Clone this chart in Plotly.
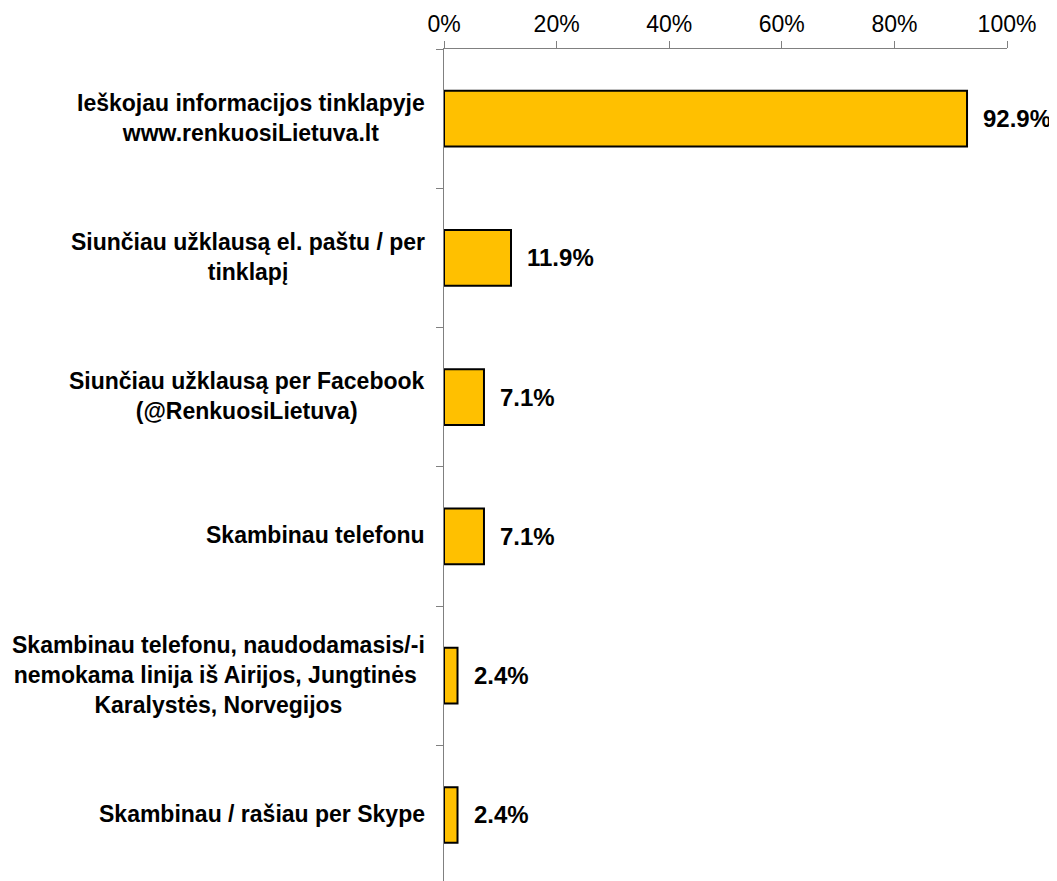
import plotly.graph_objects as go

categories = [
    "Ieškojau informacijos tinklapyje<br>www.renkuosiLietuva.lt",
    "Siunčiau užklausą el. paštu / per<br>tinklapį",
    "Siunčiau užklausą per Facebook<br>(@RenkuosiLietuva)",
    "Skambinau telefonu",
    "Skambinau telefonu, naudodamasis/-i<br>nemokama linija iš Airijos, Jungtinės <br>Karalystės, Norvegijos",
    "Skambinau / rašiau per Skype",
]
values = [92.9, 11.9, 7.1, 7.1, 2.4, 2.4]
value_labels = ["92.9%", "11.9%", "7.1%", "7.1%", "2.4%", "2.4%"]
x_ticks = [0, 20, 40, 60, 80, 100]
x_tick_labels = ["0%", "20%", "40%", "60%", "80%", "100%"]

FONT = "Liberation Sans, Arial, sans-serif"

fig = go.Figure()
fig.add_trace(go.Bar(
    x=values,
    y=categories,
    orientation="h",
    marker=dict(color="#FFC000", line=dict(color="#000000", width=2)),
    hoverinfo="skip",
))

annotations = []
for cat, v, lab in zip(categories, values, value_labels):
    annotations.append(dict(
        x=v, y=cat, xref="x", yref="y", text="<b>" + lab + "</b>", showarrow=False,
        xanchor="left", yanchor="middle", xshift=14,
        font=dict(family=FONT, size=24, color="#000000"),
    ))
    annotations.append(dict(
        x=0, y=cat, xref="paper", yref="y", text="<b>" + cat + "</b>", showarrow=False,
        xanchor="right", yanchor="middle", xshift=-17, yshift=1, align="center",
        font=dict(family=FONT, size=23, color="#000000"),
    ))

fig.update_layout(
    width=1049, height=873,
    margin=dict(l=436, r=50, t=41, b=0, pad=0),
    paper_bgcolor="white", plot_bgcolor="white",
    bargap=0.6,
    showlegend=False,
    annotations=annotations,
    font=dict(family=FONT, size=23, color="#000000"),
)
fig.update_xaxes(
    side="top", range=[0, 100],
    tickvals=x_ticks, ticktext=x_tick_labels,
    showgrid=False, zeroline=False,
    showline=True, linecolor="#808080", linewidth=1,
    ticks="outside", ticklen=7, tickcolor="#808080", tickwidth=1,
    tickfont=dict(family=FONT, size=23, color="#000000"),
)
fig.update_yaxes(
    type="category", categoryorder="array", categoryarray=categories,
    range=[5.474, -0.5],
    showticklabels=False, showgrid=False, zeroline=False,
    showline=True, linecolor="#808080", linewidth=1,
    ticks="outside", ticklen=7, tickcolor="#808080", tickwidth=1,
    tickson="boundaries",
)

fig.write_html("out.html")
